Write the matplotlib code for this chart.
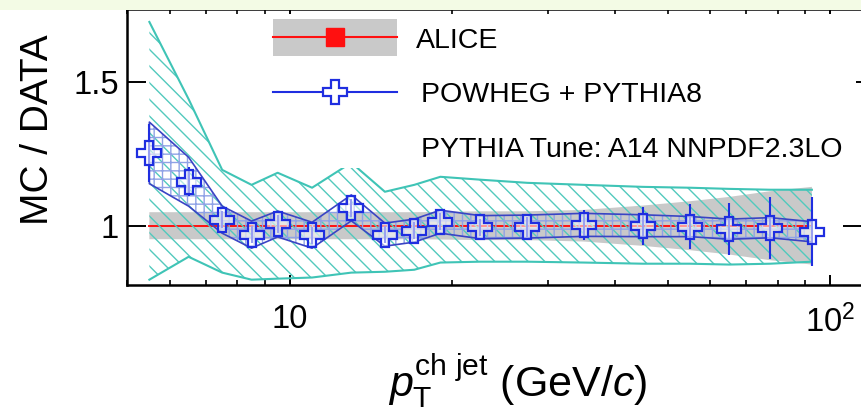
import numpy as np
import matplotlib
matplotlib.use("Agg")
import matplotlib.pyplot as plt
from matplotlib.patches import Rectangle
from matplotlib.lines import Line2D
from matplotlib.ticker import FixedLocator, FixedFormatter, LogLocator, NullFormatter, NullLocator

plt.rcParams['font.family'] = ['Liberation Sans', 'DejaVu Sans']
plt.rcParams['mathtext.fontset'] = 'custom'
plt.rcParams['mathtext.rm'] = 'Liberation Sans'
plt.rcParams['mathtext.it'] = 'Liberation Sans:italic'
plt.rcParams['mathtext.bf'] = 'Liberation Sans:bold'
plt.rcParams['hatch.linewidth'] = 1.0

# bin centres (GeV/c)
pt = [5.5, 6.5, 7.5, 8.5, 9.5, 11, 13, 15, 17, 19, 22.5, 27.5, 35, 45, 55, 65, 77.5, 92.5]

# ALICE data (ratio = 1) and its systematic half-width
alice = [1.0] * 18
alice_sys = [0.047, 0.047, 0.047, 0.047, 0.047, 0.047, 0.047, 0.047, 0.047,
             0.048, 0.05, 0.05, 0.055, 0.07, 0.085, 0.10, 0.12, 0.135]

# POWHEG + PYTHIA8 / data
powheg = [1.253, 1.153, 1.021, 0.969, 1.006, 0.967, 1.062, 0.969, 0.983,
          1.014, 0.995, 0.997, 1.003, 1.0, 0.997, 0.988, 0.993, 0.979]
powheg_stat = [0.1, 0.05, 0.03, 0.03, 0.03, 0.03, 0.03, 0.03, 0.03,
               0.03, 0.03, 0.035, 0.052, 0.066, 0.078, 0.09, 0.107, 0.12]
powheg_sys = [0.107, 0.085, 0.047, 0.047, 0.045, 0.045, 0.045, 0.04, 0.04,
              0.04, 0.04, 0.04, 0.04, 0.038, 0.035, 0.035, 0.035, 0.035]

# outer (scale variation) envelope
env_hi = [1.708, 1.44, 1.194, 1.142, 1.184, 1.132, 1.219, 1.118, 1.142,
          1.170, 1.160, 1.149, 1.142, 1.135, 1.132, 1.128, 1.125, 1.125]
env_lo = [0.8125, 0.892, 0.837, 0.8125, 0.816, 0.82, 0.837, 0.840, 0.847,
          0.872, 0.875, 0.875, 0.872, 0.868, 0.868, 0.865, 0.868, 0.875]

teal = '#3fc4b6'
blue = '#1f2ee0'
blue_dark = '#3a44c4'
red = '#ff1010'
grey = '#c9c9c9'

W, H = 861, 418
fig = plt.figure(figsize=(W / 100, H / 100), dpi=100)
ax = fig.add_axes([127 / W, 1 - 285 / H, 735 / W, 276 / H])

pt_a = np.array(pt)
a = np.array(alice)
p = np.array(powheg)

ax.fill_between(pt_a, a - np.array(alice_sys), a + np.array(alice_sys),
                facecolor=grey, edgecolor='none', zorder=1)
ax.plot(pt_a, a, color=red, lw=1.4, zorder=2)

ax.fill_between(pt_a, env_lo, env_hi, facecolor='none', edgecolor='#52c9bd',
                hatch='\\\\', linewidth=0, zorder=3)
ax.plot(pt_a, env_hi, color=teal, lw=1.5, zorder=3)
ax.plot(pt_a, env_lo, color=teal, lw=1.5, zorder=3)

psys = np.array(powheg_sys)
ax.fill_between(pt_a, p - psys, p + psys, facecolor='none', edgecolor='#8fa2e6',
                hatch='++', linewidth=0, zorder=4)
ax.fill_between(pt_a, p - psys, p + psys, facecolor='none', edgecolor=blue_dark,
                linewidth=1.2, zorder=4)

ax.errorbar(pt_a, p, yerr=powheg_stat, fmt='none', ecolor=blue, elinewidth=1.5, zorder=5)
ax.plot(pt_a, p, ls='none', marker='P', ms=17, mfc=(1, 1, 1, 0.55), mec=blue,
        mew=1.6, zorder=6)

ax.set_xscale('log')
ax.set_xlim(5, 114.5)
ax.set_ylim(0.794, 1.753)

ax.xaxis.set_major_locator(FixedLocator([10, 100]))
ax.xaxis.set_major_formatter(FixedFormatter(['10', r'$\mathdefault{10^{2}}$']))
ax.xaxis.set_minor_locator(LogLocator(base=10, subs=np.arange(2, 10)))
ax.xaxis.set_minor_formatter(NullFormatter())
ax.yaxis.set_major_locator(FixedLocator([1, 1.5]))
ax.yaxis.set_major_formatter(FixedFormatter(['1', '1.5']))
ax.yaxis.set_minor_locator(NullLocator())

ax.tick_params(axis='x', which='major', direction='in', length=7.2, width=1.4,
               top=True, labelsize=23.5, pad=14)
ax.tick_params(axis='x', which='minor', direction='in', length=3.6, width=1.2, top=True)
ax.tick_params(axis='y', which='major', direction='in', length=13.7, width=1.4,
               right=True, labelsize=23.5, pad=6)
for s in ax.spines.values():
    s.set_linewidth(1.8)

ax.set_xlabel(r'$p_{\mathrm{T}}^{\mathrm{ch\ jet}}$ (GeV/$c$)', fontsize=31,
              ha='left', va='baseline')
ax.xaxis.set_label_coords((388 - 127) / 735, (285 - 397) / 276)
ax.set_ylabel('MC / DATA', fontsize=28, va='center', ha='center')
ax.yaxis.set_label_coords((38 - 127) / 735, (285 - 130) / 276)


def fx(px):
    return px / W


def fy(py):
    return 1 - py / H


# legend drawn by hand on a white box over the plot
fig.add_artist(Rectangle((fx(268), fy(168)), fx(856) - fx(268), fy(14) - fy(168),
                         transform=fig.transFigure, facecolor='white',
                         edgecolor='none', zorder=5))
fig.add_artist(Rectangle((fx(273), fy(56)), fx(397) - fx(273), fy(19) - fy(56),
                         transform=fig.transFigure, facecolor=grey,
                         edgecolor='none', zorder=6))
fig.add_artist(Line2D([fx(273), fx(397)], [fy(37), fy(37)], color=red, lw=1.5,
                      transform=fig.transFigure, zorder=7))
fig.add_artist(Line2D([fx(335)], [fy(37)], ls='none', marker='s', ms=13.5,
                      color=red, transform=fig.transFigure, zorder=7))
fig.add_artist(Line2D([fx(273), fx(397)], [fy(92), fy(92)], color=blue, lw=1.5,
                      transform=fig.transFigure, zorder=7))
fig.add_artist(Line2D([fx(335)], [fy(92)], ls='none', marker='P', ms=17,
                      mfc='white', mec=blue, mew=1.6,
                      transform=fig.transFigure, zorder=8))
fig.text(fx(416), fy(48), 'ALICE', fontsize=20.5, va='baseline', zorder=8)
fig.text(fx(421), fy(102), 'POWHEG + PYTHIA8', fontsize=20.5, va='baseline', zorder=8)
fig.text(fx(421), fy(157), 'PYTHIA Tune: A14 NNPDF2.3LO', fontsize=20.5,
         va='baseline', zorder=8)

# light strip along the top edge
fig.add_artist(Rectangle((0, fy(9.5)), 1, 9.5 / H, transform=fig.transFigure,
                         facecolor='#f3fbe5', edgecolor='none', zorder=10))

fig.savefig('out.png', dpi=100)
